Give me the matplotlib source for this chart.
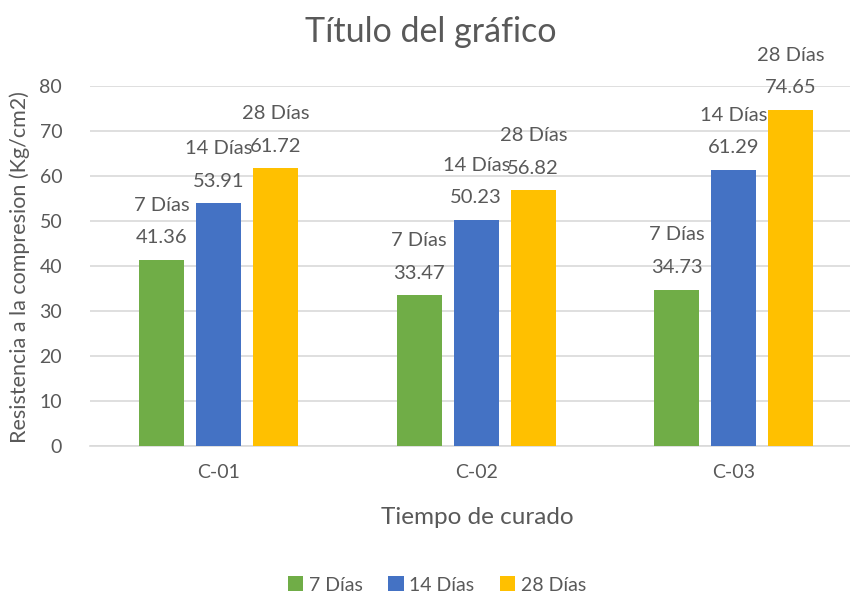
import matplotlib
matplotlib.use("Agg")
import matplotlib.pyplot as plt
import numpy as np

categories = ["C-01", "C-02", "C-03"]
series_names = ["7 Días", "14 Días", "28 Días"]
dias7 = [41.36, 33.47, 34.73]
dias14 = [53.91, 50.23, 61.29]
dias28 = [61.72, 56.82, 74.65]
colors = ["#70AD47", "#4472C4", "#FFC000"]
yticks = [0, 10, 20, 30, 40, 50, 60, 70, 80]

plt.rcParams['font.family'] = ['Lato', 'DejaVu Sans']
txt = "#595959"

W, H = 850, 596
fig = plt.figure(figsize=(W/100, H/100), dpi=100)
left, right, top, bottom = 90, 850, 86, 446
ax = fig.add_axes([left/W, 1-bottom/H, (right-left)/W, (bottom-top)/H])

x = np.arange(len(categories))
off = 57/257.5
bw = 45/257.5
for i, (vals, name, c) in enumerate(zip([dias7, dias14, dias28], series_names, colors)):
    xs = x + (i-1)*off
    ax.bar(xs, vals, width=bw, color=c, label=name, zorder=3)
    for xi, v in zip(xs, vals):
        ax.annotate(f"{v:.2f}", (xi, v), xytext=(0, 16), textcoords="offset points",
                    ha="center", va="center", fontsize=14.5, color=txt, zorder=4)
        ax.annotate(name, (xi, v), xytext=(0, 39.5), textcoords="offset points",
                    ha="center", va="center", fontsize=14.5, color=txt, zorder=4)

ax.set_xlim(-0.5, -0.5 + (right-left)/257.5)
ax.set_ylim(0, 80)
ax.set_yticks(yticks)
ax.set_xticks(x)
ax.set_xticklabels(categories)
ax.grid(axis="y", color="#D9D9D9", linewidth=1.2, zorder=0)
for s in ["top", "right", "left"]:
    ax.spines[s].set_visible(False)
ax.spines["bottom"].set_color("#D9D9D9")
ax.spines["bottom"].set_linewidth(1.2)
ax.tick_params(axis="both", length=0, labelsize=14, colors=txt)
ax.tick_params(axis="y", pad=20)
ax.tick_params(axis="x", pad=13)

fig.text(477/W, 1-518/H, "Tiempo de curado", ha="center", va="center",
         fontsize=17.5, color=txt)
fig.text(20/W, 1-267/H, "Resistencia a la compresion (Kg/cm2)", rotation=90,
         ha="center", va="center", fontsize=15.5, color=txt)
fig.text(431/W, 1-32/H, "Título del gráfico", ha="center", va="center",
         fontsize=24.5, color=txt)

leg = fig.legend(loc="center", bbox_to_anchor=(437/W, 1-585/H), ncol=3, frameon=False,
                 fontsize=14, handlelength=0.8, handleheight=0.8, handletextpad=0.3,
                 columnspacing=1.3)
for t in leg.get_texts():
    t.set_color(txt)

fig.savefig("out.png", dpi=100)
